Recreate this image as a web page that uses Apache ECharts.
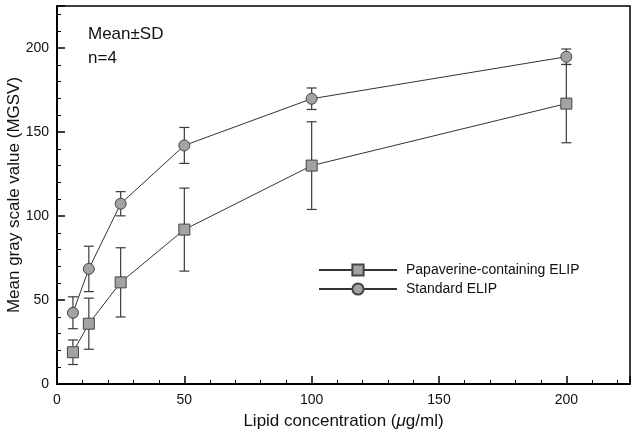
<!DOCTYPE html>
<html><head><meta charset="utf-8">
<script src="https://cdn.jsdelivr.net/npm/echarts@6/dist/echarts.min.js"></script>
<style>html,body{margin:0;padding:0;background:#fff}#c{width:637px;height:435px}</style>
</head><body><div id="c"></div>
<script>
const concentrations = [6.25, 12.5, 25, 50, 100, 200];
const papaverineMean = [18.9, 35.9, 60.5, 91.9, 130, 166.9];
const papaverineSD = [7.3, 15.2, 20.6, 24.7, 26.1, 23.3];
const standardMean = [42.4, 68.5, 107.3, 142, 169.8, 194.8];
const standardSD = [9.5, 13.5, 7.2, 10.7, 6.4, 4.6];
const seriesNames = ['Papaverine-containing ELIP', 'Standard ELIP'];

const font = 'Liberation Sans, Arial, Helvetica, sans-serif';
function pts(m) { return concentrations.map((x, i) => [x, m[i]]); }
function errs(m, s) { return concentrations.map((x, i) => [x, m[i] - s[i], m[i] + s[i]]); }
function errRender(params, api) {
  const x = api.value(0);
  const lo = api.coord([x, api.value(1)]);
  const hi = api.coord([x, api.value(2)]);
  const w = 5;
  const st = { stroke: '#3a3a3a', lineWidth: 1.2 };
  return { type: 'group', children: [
    { type: 'line', shape: { x1: lo[0], y1: lo[1], x2: hi[0], y2: hi[1] }, style: st },
    { type: 'line', shape: { x1: lo[0] - w, y1: lo[1], x2: lo[0] + w, y2: lo[1] }, style: st },
    { type: 'line', shape: { x1: hi[0] - w, y1: hi[1], x2: hi[0] + w, y2: hi[1] }, style: st }
  ]};
}
const chart = echarts.init(document.getElementById('c'), null, { renderer: 'canvas' });
chart.setOption({
  animation: false,
  backgroundColor: '#fff',
  textStyle: { fontFamily: font },
  grid: { left: 57, right: 7, top: 6, bottom: 51, show: true, borderColor: '#000', borderWidth: 1.5, containLabel: false, outerBoundsMode: 'none' },
  xAxis: {
    type: 'value', min: 0, max: 225, interval: 50,
    name: 'Lipid concentration ({i|μ}g/ml)', nameLocation: 'middle', nameGap: 29, nameMoveOverlap: false,
    nameTextStyle: { fontSize: 17, color: '#111', fontFamily: font, rich: { i: { fontStyle: 'italic', fontSize: 17, color: '#111', fontFamily: font } } },
    axisLine: { show: true, onZero: false, lineStyle: { color: '#000', width: 2 } },
    axisTick: { inside: true, length: 8, lineStyle: { color: '#000', width: 1.5 } },
    minorTick: { show: true, splitNumber: 5, length: 4, lineStyle: { color: '#000', width: 1 } },
    axisLabel: { fontSize: 14, color: '#111', margin: 9, fontFamily: font, showMaxLabel: false },
    splitLine: { show: false }
  },
  yAxis: {
    type: 'value', min: 0, max: 225, interval: 50,
    name: 'Mean gray scale value (MGSV)', nameLocation: 'middle', nameGap: 34, nameMoveOverlap: false,
    nameTextStyle: { fontSize: 17, color: '#111', fontFamily: font },
    axisLine: { show: true, onZero: false, lineStyle: { color: '#000', width: 2 } },
    axisTick: { inside: true, length: 8, lineStyle: { color: '#000', width: 1.5 } },
    minorTick: { show: true, splitNumber: 5, length: 4, lineStyle: { color: '#000', width: 1 } },
    axisLabel: { fontSize: 14, color: '#111', margin: 8, fontFamily: font, showMaxLabel: false },
    splitLine: { show: false }
  },
  legend: {
    orient: 'vertical', left: 318, top: 263, padding: 0, itemWidth: 78, itemHeight: 14, itemGap: 5,
    data: seriesNames,
    textStyle: { fontSize: 14, color: '#111', fontFamily: font, padding: [0, 0, 0, 4] }
  },
  graphic: [
    { type: 'text', left: 88, top: 26, style: { text: 'Mean±SD', font: '17px ' + font, fill: '#111' } },
    { type: 'text', left: 88, top: 50, style: { text: 'n=4', font: '17px ' + font, fill: '#111' } }
  ],
  series: [
    { type: 'custom', name: 'errP', renderItem: errRender, data: errs(papaverineMean, papaverineSD), z: 1, silent: true },
    { type: 'custom', name: 'errS', renderItem: errRender, data: errs(standardMean, standardSD), z: 1, silent: true },
    { type: 'line', name: seriesNames[0], data: pts(papaverineMean), symbol: 'rect', symbolSize: 11, z: 3,
      lineStyle: { color: '#333', width: 1 }, itemStyle: { color: '#a3a3a3', borderColor: '#444', borderWidth: 1 } },
    { type: 'line', name: seriesNames[1], data: pts(standardMean), symbol: 'circle', symbolSize: 11, z: 3,
      lineStyle: { color: '#333', width: 1 }, itemStyle: { color: '#a3a3a3', borderColor: '#444', borderWidth: 1 } }
  ]
});
</script></body></html>
